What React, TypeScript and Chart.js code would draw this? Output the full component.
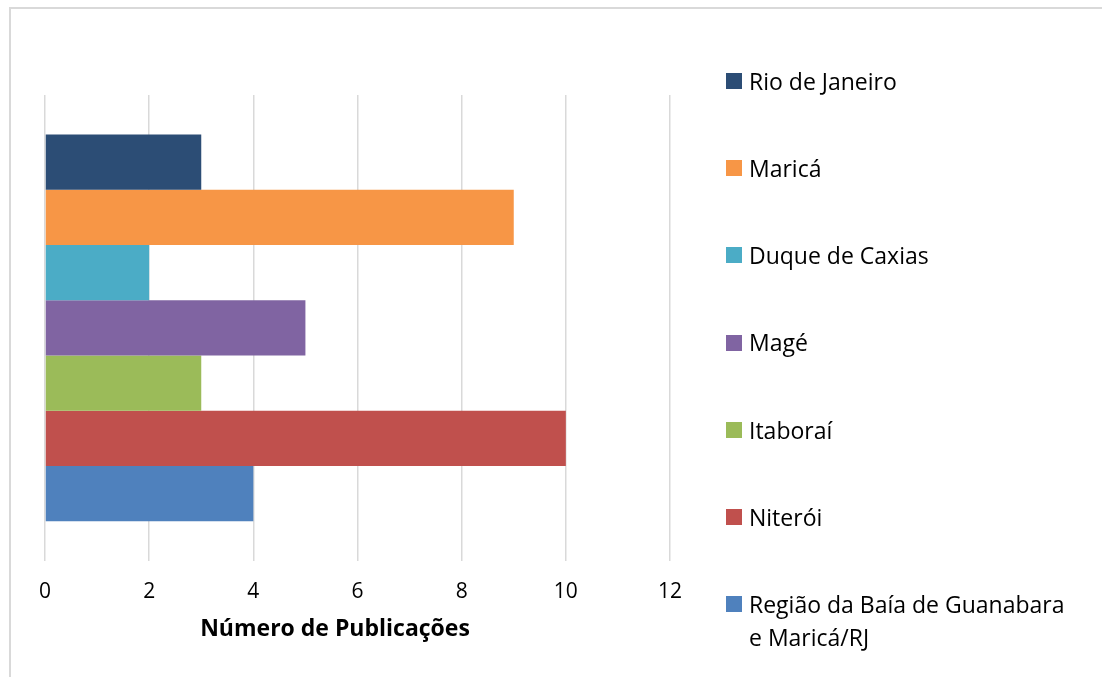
import React, { useEffect, useRef } from "react";
import { Chart, registerables } from "chart.js";

Chart.register(...registerables);

const categories = [""];
const seriesNames = [
  "Rio de Janeiro",
  "Maricá",
  "Duque de Caxias",
  "Magé",
  "Itaboraí",
  "Niterói",
  "Região da Baía de Guanabara e Maricá/RJ",
];
const seriesValues = [3, 9, 2, 5, 3, 10, 4];
const seriesColors = ["#2C4D75", "#F79646", "#4BACC6", "#8064A2", "#9BBB59", "#C0504D", "#4F81BD"];
const xTicks = [0, 2, 4, 6, 8, 10, 12];
const axisTitle = "Número de Publicações";

const FONT = "'Open Sans', 'Noto Sans', sans-serif";
const TITLE_SIZE = 23;

const axisTitlePlugin = {
  id: "axisTitleLeftCentered",
  afterDraw(chart: any) {
    const { ctx, chartArea } = chart;
    ctx.save();
    ctx.font = `bold ${TITLE_SIZE}px ${FONT}`;
    ctx.fillStyle = "#000";
    ctx.textAlign = "center";
    ctx.textBaseline = "middle";
    ctx.fillText(axisTitle, chartArea.right / 2, chartArea.bottom + 69);
    ctx.restore();
  },
};

export default function App() {
  const ref = useRef<HTMLCanvasElement | null>(null);

  useEffect(() => {
    if (!ref.current) return;
    const chart = new Chart(ref.current, {
      type: "bar",
      data: {
        labels: categories,
        datasets: seriesNames.map((name, i) => ({
          label: name,
          data: [seriesValues[i]],
          backgroundColor: seriesColors[i],
          borderWidth: 0,
          categoryPercentage: 0.83,
          barPercentage: 1.0,
        })),
      },
      options: {
        indexAxis: "y",
        animation: false,
        responsive: false,
        maintainAspectRatio: false,
        layout: { padding: { left: 45, top: 95, right: 432, bottom: 53 } },
        plugins: {
          legend: { display: false },
          tooltip: { enabled: false },
          title: { display: false },
        },
        scales: {
          x: {
            min: xTicks[0],
            max: xTicks[xTicks.length - 1],
            afterBuildTicks: (axis: any) => {
              axis.ticks = xTicks.map((v) => ({ value: v }));
            },
            grid: { color: "#d9d9d9", lineWidth: 1.5, drawTicks: false },
            border: { display: false },
            ticks: {
              padding: 19,
              color: "#000",
              font: { family: FONT, size: 21 },
            },
            title: { display: false },
          },
          y: { display: false },
        },
      },
      plugins: [axisTitlePlugin],
    });
    return () => chart.destroy();
  }, []);

  return (
    <div
      style={{
        position: "fixed",
        left: 0,
        top: 0,
        width: 1102,
        height: 677,
        overflow: "hidden",
        background: "#fff",
        fontFamily: FONT,
      }}
    >
      <div
        style={{
          position: "absolute",
          left: 9,
          top: 7,
          width: 1200,
          height: 800,
          borderTop: "2px solid #d9d9d9",
          borderLeft: "2px solid #d9d9d9",
        }}
      />
      <canvas ref={ref} width={1102} height={677} style={{ position: "absolute", left: 0, top: 0 }} />
      {seriesNames.map((name, i) => (
        <div
          key={name}
          style={{
            position: "absolute",
            left: 726,
            top: 64.5 + i * 87.3,
            display: "flex",
            alignItems: "flex-start",
            fontSize: 23,
            lineHeight: "33px",
            color: "#000",
          }}
        >
          <div
            style={{
              width: 16,
              height: 16,
              marginTop: 8.2,
              marginRight: 7,
              background: seriesColors[i],
              flex: "none",
            }}
          />
          <div style={{ width: 325 }}>{name}</div>
        </div>
      ))}
    </div>
  );
}
